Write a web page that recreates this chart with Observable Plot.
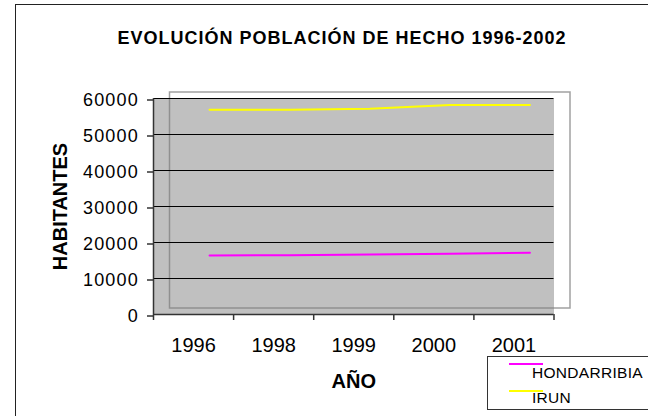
<!DOCTYPE html>
<html>
<head>
<meta charset="utf-8">
<script src="https://cdn.jsdelivr.net/npm/d3@7"></script>
<script src="https://cdn.jsdelivr.net/npm/@observablehq/plot@0.6"></script>
<style>
  html, body { margin: 0; padding: 0; background: #fff; }
  #wrap { position: relative; width: 648px; height: 416px; overflow: hidden; background: #fff;
          font-family: "Liberation Sans", Arial, sans-serif; }
  #border { position: absolute; left: 14.5px; top: 4px; width: 720px; height: 520px;
            border: 1.5px solid #222; box-sizing: border-box; }
  #chart { position: absolute; left: 0; top: 0; }
  #title { position: absolute; left: 0; width: 684px; top: 28.5px; text-align: center;
           font-weight: bold; font-size: 18px; line-height: 18px; letter-spacing: 1px; color: #000; }
  #legend { position: absolute; left: 487px; top: 355.5px; width: 220px; height: 54px;
            border: 1px solid #333; box-sizing: border-box; background: #fff; }
  .sw { position: absolute; left: 21px; width: 34px; height: 2px; }
  .lt { position: absolute; left: 44px; font-size: 15.5px; line-height: 15px; letter-spacing: 0.3px; color: #000; }
</style>
</head>
<body>
<div id="wrap">
  <div id="border"></div>
  <div id="chart"></div>
  <div id="title"></div>
  <div id="legend"></div>
</div>
<script>
const title = "EVOLUCIÓN POBLACIÓN DE HECHO 1996-2002";
const years = ["1996", "1998", "1999", "2000", "2001"];
const cities = ["HONDARRIBIA", "IRUN"];
const hondarribia = [14600, 14680, 14880, 15100, 15350];
const irun = [55070, 55070, 55350, 56380, 56380];
const yTicks = [0, 10000, 20000, 30000, 40000, 50000, 60000];
const colors = ["#ff00ff", "#ffff00"];
const xLabel = "AÑO";
const yLabel = "HABITANTES";

const series = [hondarribia, irun];
const rows = [];
cities.forEach((c, k) => years.forEach((y, i) => rows.push({i, year: y, city: c, value: series[k][i]})));

const chart = Plot.plot({
  width: 648,
  height: 416,
  marginLeft: 153,
  marginRight: 94.5,
  marginTop: 98,
  marginBottom: 102,
  style: {fontFamily: '"Liberation Sans", Arial, sans-serif', fontSize: "16px", background: "transparent", color: "#000", overflow: "visible"},
  x: {domain: [0, years.length], axis: null},
  y: {domain: [0, 60000], axis: null},
  color: {domain: cities, range: colors},
  marks: [
    Plot.frame({fill: "#c0c0c0"}),
    Plot.frame({stroke: "#808080", strokeOpacity: 0.75, strokeWidth: 1.5, dx: 16, dy: -6.5}),
    Plot.gridY(yTicks.slice(1), {stroke: "#000", strokeOpacity: 1, strokeWidth: 1}),
    Plot.line(rows, {x: d => d.i + 0.5, y: "value", z: "city", stroke: "city", strokeWidth: 2, dx: 16, dy: -6.5}),
    Plot.ruleX([0], {stroke: "#333", strokeWidth: 1.5}),
    Plot.ruleY([0], {stroke: "#333", strokeWidth: 1.5}),
    Plot.axisY({ticks: yTicks, tickSize: 6, tickPadding: 8.5, tickFormat: d => String(d), fontSize: 18, dy: 1.5, stroke: "#333", strokeWidth: 1.5, label: null}),
    Plot.axisX({ticks: d3.range(years.length + 1), tickSize: 6, tickFormat: () => "", stroke: "#333", strokeWidth: 1.5, label: null}),
    Plot.text(years, {x: (d, i) => i + 0.5, frameAnchor: "bottom", textAnchor: "middle", lineAnchor: "middle", dy: 31.5, fontSize: 20, fill: "#000"}),
    Plot.text([xLabel], {frameAnchor: "bottom", textAnchor: "middle", lineAnchor: "middle", dy: 67, fontSize: 20, fontWeight: "bold", fill: "#000"}),
    Plot.text([yLabel], {frameAnchor: "left", textAnchor: "middle", lineAnchor: "middle", dx: -93, rotate: -90, fontSize: 20, fontWeight: "bold", fill: "#000"})
  ]
});
d3.select(chart).selectAll('g[aria-label="y-axis tick label"] text').style("letter-spacing", "1.2px");
document.getElementById("chart").appendChild(chart);
document.getElementById("title").textContent = title;

const legend = document.getElementById("legend");
const swTop = [6, 33], txtTop = [8, 33];
cities.forEach((c, k) => {
  const sw = document.createElement("div");
  sw.className = "sw"; sw.style.top = swTop[k] + "px"; sw.style.background = colors[k];
  const t = document.createElement("div");
  t.className = "lt"; t.style.top = txtTop[k] + "px"; t.textContent = c;
  legend.appendChild(sw); legend.appendChild(t);
});
</script>
</body>
</html>
